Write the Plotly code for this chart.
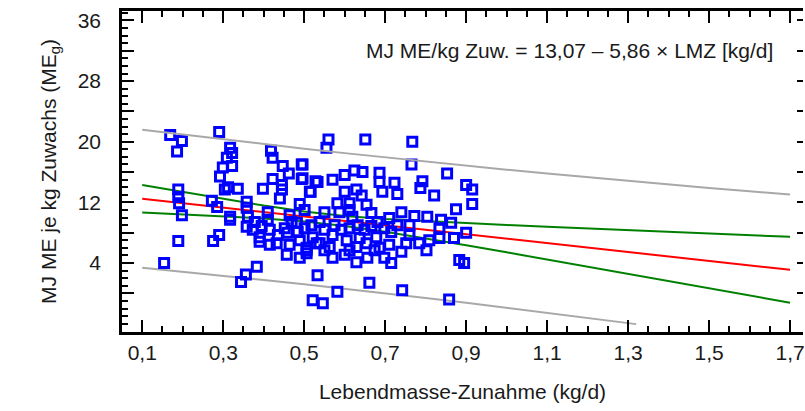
import plotly.graph_objects as go

# ---- data ----
lmz = [0.169, 0.198, 0.186, 0.290, 0.317, 0.322, 0.309, 0.322, 0.299, 0.292, 0.312, 0.304, 0.336, 0.189,
       0.189, 0.191, 0.198, 0.272, 0.285, 0.317, 0.317, 0.189, 0.290, 0.275, 0.154, 0.383, 0.356, 0.344,
       0.418, 0.422, 0.447, 0.462, 0.494, 0.494, 0.528, 0.516, 0.422, 0.445, 0.398, 0.445, 0.440, 0.358,
       0.358, 0.361, 0.489, 0.501, 0.482, 0.358, 0.373, 0.390, 0.390, 0.435, 0.459, 0.432, 0.464, 0.457,
       0.506, 0.506, 0.531, 0.521, 0.533,
       0.560, 0.555, 0.651, 0.767, 0.765, 0.853, 0.900, 0.915, 0.915, 0.875, 0.792, 0.787, 0.821, 0.723,
       0.730, 0.686, 0.686, 0.693, 0.644, 0.624, 0.600, 0.570, 0.533, 0.514, 0.496, 0.496, 0.600, 0.629,
       0.642, 0.582, 0.612, 0.654, 0.666, 0.587, 0.619, 0.740, 0.772, 0.804, 0.838, 0.863, 0.900, 0.809,
       0.784, 0.752, 0.740, 0.802, 0.686, 0.678, 0.654, 0.629, 0.605, 0.612, 0.629, 0.656, 0.570, 0.563,
       0.538, 0.506, 0.521, 0.570, 0.715, 0.883, 0.895, 0.661, 0.582, 0.546, 0.742, 0.858,
       0.378, 0.395, 0.410, 0.415, 0.452, 0.469, 0.484, 0.501, 0.518, 0.538, 0.550, 0.575, 0.592, 0.612,
       0.632, 0.649, 0.666, 0.681, 0.698, 0.715, 0.730, 0.415, 0.489, 0.550, 0.600, 0.637, 0.674, 0.710,
       0.760, 0.834, 0.410, 0.464, 0.550, 0.612, 0.710, 0.760, 0.834, 0.870, 0.489, 0.698]
me_g = [20.9, 20.1, 18.7, 21.3, 19.2, 18.5, 17.9, 16.8, 16.6, 15.4, 14.0, 13.7, 13.8, 13.7,
        12.7, 11.9, 10.3, 12.2, 11.4, 10.1, 9.7, 6.9, 7.7, 6.9, 4.0, 3.5, 2.5, 1.5,
        18.8, 17.9, 16.8, 15.8, 17.0, 15.1, 14.8, 13.4, 15.1, 14.3, 13.8, 13.7, 12.5, 12.1,
        11.3, 10.1, 11.8, 11.0, 9.3, 8.8, 8.4, 7.4, 6.8, 7.7, 8.0, 6.6, 6.4, 5.1,
        6.0, 5.3, 6.6, -0.9, 2.4,
        20.3, 19.2, 20.3, 20.0, 17.0, 15.8, 14.3, 13.7, 11.8, 11.1, 14.8, 13.9, 12.9, 14.6,
        13.1, 15.9, 14.7, 13.4, 16.0, 16.2, 15.6, 15.0, 14.7, 13.4, 17.0, 15.2, 13.4, 13.7,
        12.9, 11.9, 11.9, 11.7, 10.6, 10.7, 10.1, 10.7, 10.2, 10.1, 9.7, 9.3, 8.0, 7.0,
        6.6, 6.6, 5.5, 5.7, 6.0, 7.4, 6.6, 6.1, 7.0, 5.7, 4.1, 4.7, 4.7, 6.1,
        6.6, 5.7, 7.4, 7.7, 4.0, 4.4, 4.0, 1.4, 0.2, -1.3, 0.4, -0.8,
        9.4, 8.9, 9.7, 8.4, 8.6, 9.4, 8.1, 8.6, 9.0, 9.4, 8.4, 9.0, 8.4, 8.6,
        9.0, 8.4, 8.9, 9.4, 8.6, 8.1, 9.0, 6.4, 7.0, 5.7, 5.1, 7.3, 5.7, 6.4,
        7.7, 7.3, 10.7, 10.3, 10.7, 11.0, 9.95, 9.0, 8.6, 7.3, 4.7, 4.7]

line_x = [0.1, 0.2, 0.3, 0.4, 0.5, 0.6, 0.7, 0.8, 0.9, 1.0, 1.1, 1.2, 1.3, 1.4, 1.5, 1.6, 1.7]
fit = [12.48, 11.90, 11.31, 10.73, 10.14, 9.55, 8.97, 8.38, 7.80, 7.21, 6.62, 6.04, 5.45, 4.87, 4.28, 3.69, 3.11]
conf_up = [14.28, 13.36, 12.45, 11.58, 10.81, 10.22, 9.82, 9.52, 9.25, 9.01, 8.78, 8.55, 8.33, 8.11, 7.89, 7.67, 7.46]
conf_lo = [10.68, 10.44, 10.18, 9.88, 9.47, 8.89, 8.12, 7.25, 6.34, 5.41, 4.47, 3.53, 2.58, 1.62, 0.67, -0.28, -1.24]
pred_up = [21.59, 20.94, 20.31, 19.69, 19.09, 18.50, 17.93, 17.38, 16.84, 16.31, 15.80, 15.31, 14.83, 14.36, 13.90, 13.46, 13.03]
pred_lo_x = [0.1, 0.2, 0.3, 0.4, 0.5, 0.6, 0.7, 0.8, 0.9, 1.0, 1.1, 1.2, 1.3, 1.32]
pred_lo = [3.38, 2.86, 2.32, 1.76, 1.19, 0.61, 0.01, -0.61, -1.24, -1.89, -2.55, -3.23, -3.92, -4.06]

x_ticks = [0.1, 0.3, 0.5, 0.7, 0.9, 1.1, 1.3, 1.5, 1.7]
x_ticktext = ["0,1", "0,3", "0,5", "0,7", "0,9", "1,1", "1,3", "1,5", "1,7"]
y_ticks = [0, 4, 8, 12, 16, 20, 24, 28, 32, 36]
y_ticktext = ["", "4", "", "12", "", "20", "", "28", "", "36"]

FONT = "Liberation Sans, Arial, sans-serif"
TXT = "#1a1a1a"
GRAY = "#a8a8a8"
GREEN = "#008000"
RED = "#ff0000"
BLUE = "#0000ff"
FS = 21

fig = go.Figure()
fig.add_trace(go.Scatter(x=line_x, y=pred_up, mode="lines", line=dict(color=GRAY, width=2),
                         yaxis="y2", hoverinfo="skip"))
fig.add_trace(go.Scatter(x=pred_lo_x, y=pred_lo, mode="lines", line=dict(color=GRAY, width=2)))
fig.add_trace(go.Scatter(x=line_x, y=conf_up, mode="lines", line=dict(color=GREEN, width=2)))
fig.add_trace(go.Scatter(x=line_x, y=conf_lo, mode="lines", line=dict(color=GREEN, width=2)))
fig.add_trace(go.Scatter(x=line_x, y=fit, mode="lines", line=dict(color=RED, width=2)))
fig.add_trace(go.Scatter(x=lmz, y=me_g, mode="markers",
                         marker=dict(symbol="square-open", size=9, color=BLUE,
                                     line=dict(color=BLUE, width=3))))

yr = [-5.1, 37.25]
fig.update_layout(
    width=805, height=411,
    margin=dict(l=122, r=0, t=11, b=79),
    paper_bgcolor="white", plot_bgcolor="white",
    showlegend=False,
    font=dict(family=FONT, size=FS, color=TXT),
    xaxis=dict(range=[0.05, 1.732], tickmode="array", tickvals=x_ticks, ticktext=x_ticktext,
               ticks="inside", ticklen=12, tickwidth=2, tickcolor="black",
               minor=dict(dtick=0.05, tick0=0.05, ticks="inside", ticklen=6, tickwidth=2, tickcolor="black"),
               showline=True, linewidth=2.5, linecolor="black", mirror="ticks",
               showgrid=False, zeroline=False, ticklabeloverflow="allow",
               tickfont=dict(size=FS),
               title=dict(text="Lebendmasse-Zunahme (kg/d)", font=dict(size=FS), standoff=22)),
    yaxis=dict(range=yr, tickmode="array", tickvals=y_ticks, ticktext=y_ticktext,
               ticks="inside", ticklen=12, tickwidth=2, tickcolor="black",
               minor=dict(dtick=1, tick0=0, ticks="inside", ticklen=6, tickwidth=2, tickcolor="black"),
               showline=True, linewidth=2.5, linecolor="black", mirror=False,
               showgrid=False, zeroline=False,
               ticklabelstandoff=14,
               tickfont=dict(size=FS),
               title=dict(text="MJ ME je kg Zuwachs (ME<sub>g</sub>)", font=dict(size=FS), standoff=16)),
    yaxis2=dict(range=yr, overlaying="y", side="right", anchor="x",
                tickmode="array", tickvals=y_ticks, showticklabels=False,
                ticks="inside", ticklen=6, tickwidth=2, tickcolor="black",
                showline=False, showgrid=False, zeroline=False),
    annotations=[dict(text="MJ ME/kg Zuw. = 13,07 – 5,86 × LMZ [kg/d]", xref="paper", yref="paper",
                      x=0.959, y=0.8785, xanchor="right", yanchor="middle", showarrow=False,
                      font=dict(size=FS, color=TXT))],
)

fig.write_html("out.html")
